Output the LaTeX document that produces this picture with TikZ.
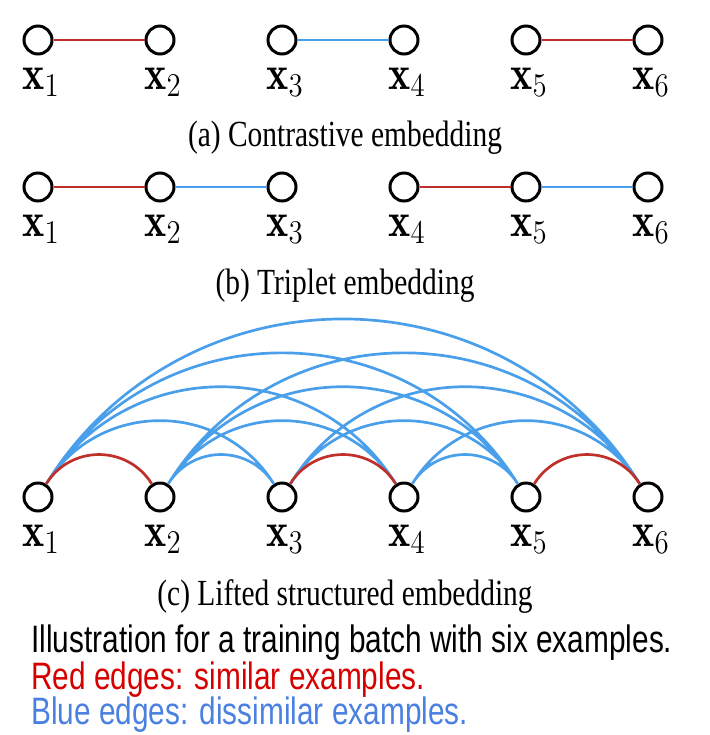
\documentclass[tikz,border=0pt]{standalone}
\usepackage{graphicx}
\usepackage{fontspec}
\newfontfamily\capfont[FakeStretch=0.8]{Liberation Serif}
\newfontfamily\notefont[FakeStretch=0.78]{Liberation Sans}
\usetikzlibrary{positioning}
\definecolor{simred}{RGB}{192,48,43}
\definecolor{disblue}{RGB}{74,159,234}
\definecolor{txtred}{RGB}{214,0,0}
\definecolor{txtblue}{RGB}{74,128,224}
\newcommand{\smpx}[1]{\scalebox{1}[1.15]{$\mathbf{x}_{#1}$}}

\begin{document}
\begin{tikzpicture}[
  x=0.5pt, y=-0.5pt,
  node distance=61pt,
  smp/.style={draw, circle, line width=1.5pt, minimum size=14pt, inner sep=0pt},
  lbl/.style={font=\fontsize{21}{23}\selectfont, inner sep=0pt, node distance=21pt, xshift=1.5pt},
  subcap/.style={font=\capfont\fontsize{18.4}{20}\selectfont, inner sep=0pt},
  note/.style={font=\notefont\fontsize{19.1}{22}\selectfont, anchor=west, inner sep=0pt},
  sim/.style={simred, line width=1.35pt},
  dis/.style={disblue, line width=1.35pt},
  hop/.style={out=58, in=122, looseness=1.12}
]
  \useasboundingbox (0,0) rectangle (710,735);

  % (a) contrastive
  \node (a1) [smp] at (38,40) {};
  \node (a2) [smp, right of=a1] {};
  \node (a3) [smp, right of=a2] {};
  \node (a4) [smp, right of=a3] {};
  \node (a5) [smp, right of=a4] {};
  \node (a6) [smp, right of=a5] {};
  \draw[sim] (a1) -- (a2);
  \draw[dis] (a3) -- (a4);
  \draw[sim] (a5) -- (a6);
  \node (la1) [lbl, below of=a1] {\smpx{1}};
  \node (la2) [lbl, below of=a2] {\smpx{2}};
  \node (la3) [lbl, below of=a3] {\smpx{3}};
  \node (la4) [lbl, below of=a4] {\smpx{4}};
  \node (la5) [lbl, below of=a5] {\smpx{5}};
  \node (la6) [lbl, below of=a6] {\smpx{6}};
  \node (capa) [subcap] at (345,138) {(a) Contrastive embedding};

  % (b) triplet
  \node (b1) [smp] at (38,187) {};
  \node (b2) [smp, right of=b1] {};
  \node (b3) [smp, right of=b2] {};
  \node (b4) [smp, right of=b3] {};
  \node (b5) [smp, right of=b4] {};
  \node (b6) [smp, right of=b5] {};
  \draw[sim] (b1) -- (b2);
  \draw[dis] (b2) -- (b3);
  \draw[sim] (b4) -- (b5);
  \draw[dis] (b5) -- (b6);
  \node (lb1) [lbl, below of=b1] {\smpx{1}};
  \node (lb2) [lbl, below of=b2] {\smpx{2}};
  \node (lb3) [lbl, below of=b3] {\smpx{3}};
  \node (lb4) [lbl, below of=b4] {\smpx{4}};
  \node (lb5) [lbl, below of=b5] {\smpx{5}};
  \node (lb6) [lbl, below of=b6] {\smpx{6}};
  \node (capb) [subcap] at (345,286) {(b) Triplet embedding};

  % (c) lifted structured
  \node (c1) [smp] at (38,497) {};
  \node (c2) [smp, right of=c1] {};
  \node (c3) [smp, right of=c2] {};
  \node (c4) [smp, right of=c3] {};
  \node (c5) [smp, right of=c4] {};
  \node (c6) [smp, right of=c5] {};
  \draw[dis]
    (c1) to[hop] (c3) (c1) to[hop] (c4) (c1) to[hop] (c5) (c1) to[hop] (c6)
    (c2) to[hop] (c3) (c2) to[hop] (c4) (c2) to[hop] (c5) (c2) to[hop] (c6)
    (c3) to[hop] (c5) (c3) to[hop] (c6)
    (c4) to[hop] (c5) (c4) to[hop] (c6);
  \draw[sim] (c1) to[hop] (c2) (c3) to[hop] (c4) (c5) to[hop] (c6);
  \node (lc1) [lbl, below of=c1] {\smpx{1}};
  \node (lc2) [lbl, below of=c2] {\smpx{2}};
  \node (lc3) [lbl, below of=c3] {\smpx{3}};
  \node (lc4) [lbl, below of=c4] {\smpx{4}};
  \node (lc5) [lbl, below of=c5] {\smpx{5}};
  \node (lc6) [lbl, below of=c6] {\smpx{6}};
  \node (capc) [subcap] at (345,597) {(c) Lifted structured embedding};

  % legend text
  \node (n1) [note] at (31,643) {Illustration for a training batch with six examples.};
  \node (n2) [note, txtred] at (31,680) {Red edges: similar examples.};
  \node (n3) [note, txtblue] at (31,715) {Blue edges: dissimilar examples.};
\end{tikzpicture}
\end{document}
